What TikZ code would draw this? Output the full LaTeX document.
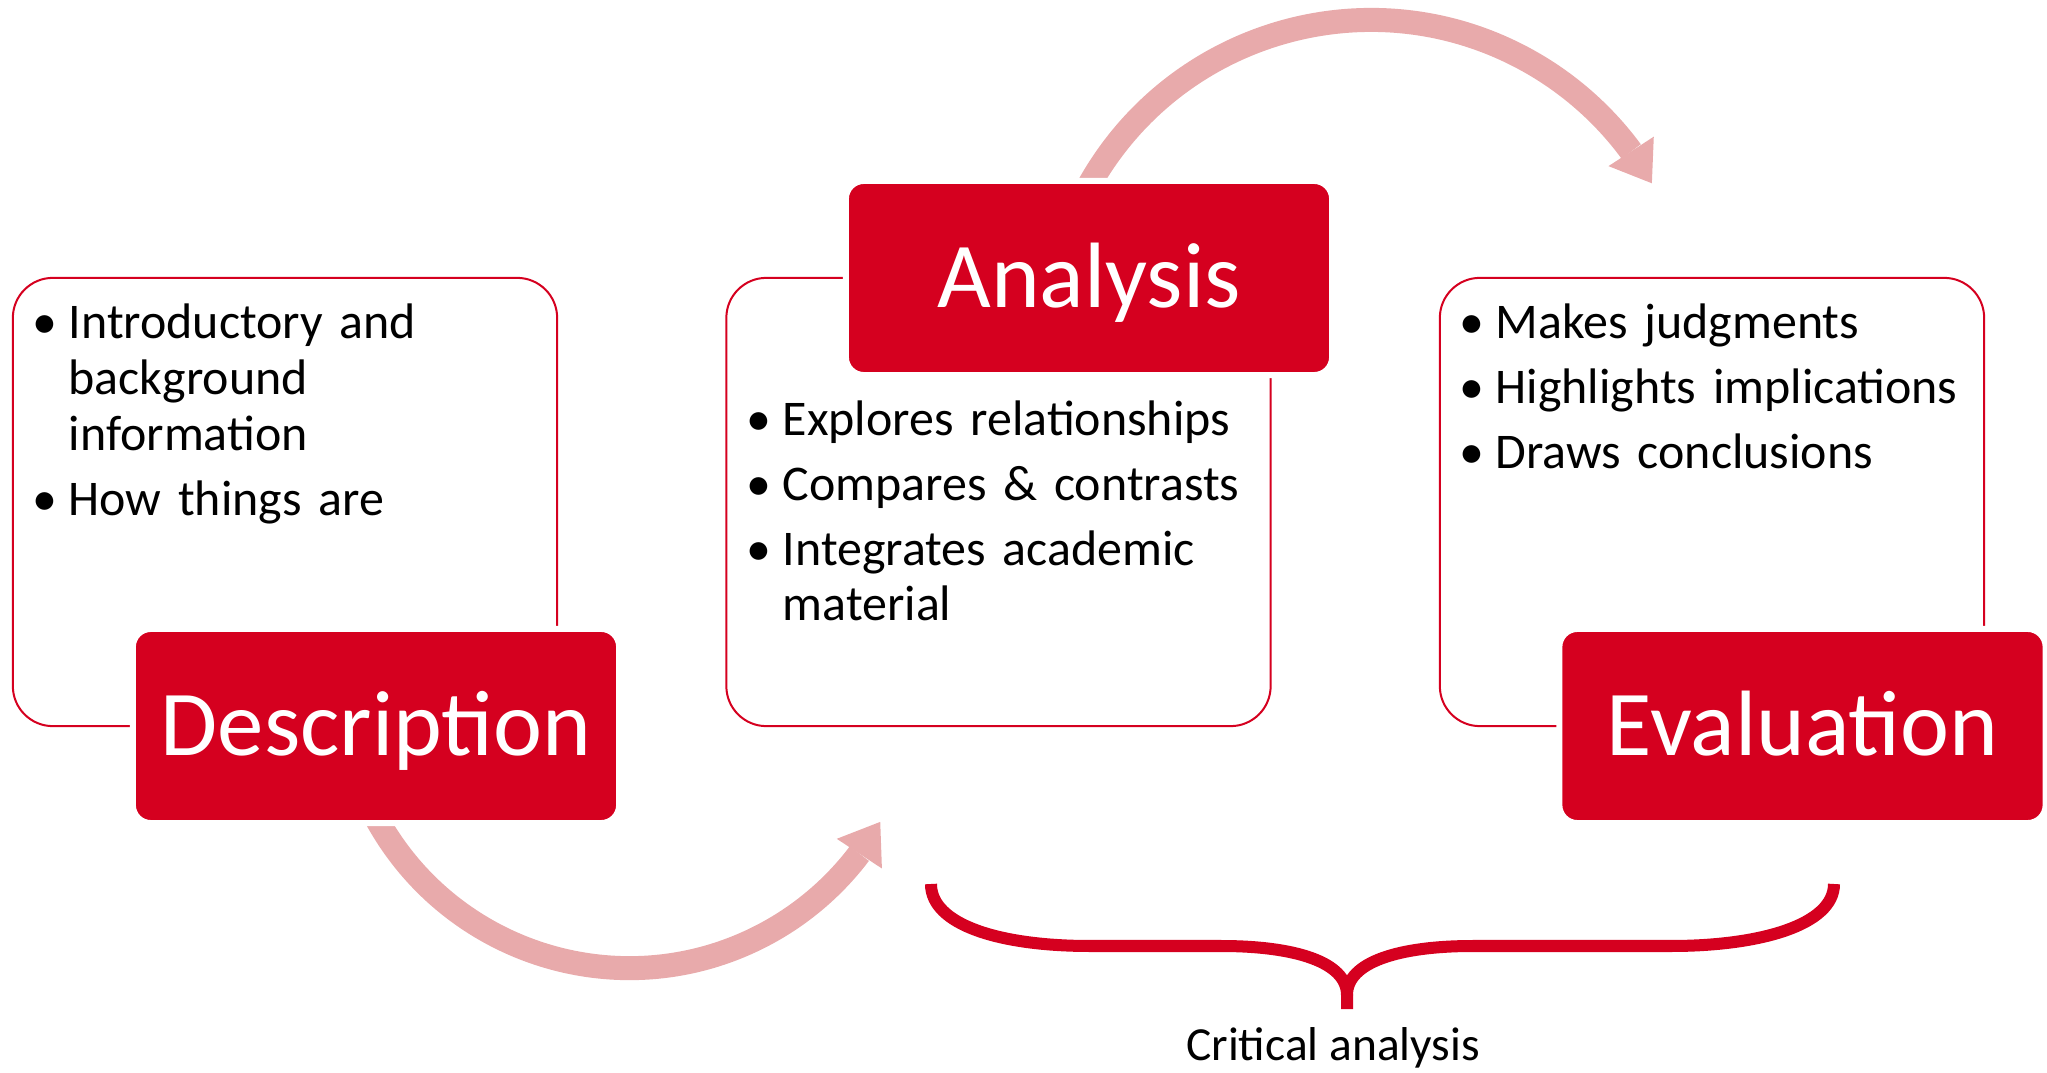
\documentclass[tikz,border=0pt]{standalone}
\usepackage{fontspec}
\setmainfont{Carlito}
\usetikzlibrary{arrows.meta,bending}
\definecolor{boxred}{RGB}{213,0,31}
\definecolor{flowpink}{RGB}{232,170,171}
\pgfdeclarelayer{back}
\pgfsetlayers{back,main}
\newcommand{\bitem}[1]{\setlength{\parskip}{2.65pt}\hyphenpenalty=10000 \exhyphenpenalty=10000 %
  \hangindent=0.36cm \hangafter=1 \noindent\makebox[0.36cm][l]{\textbullet}#1\par}
\tikzset{
  panel/.style={draw=boxred, line width=0.02cm, rounded corners=0.4cm, minimum width=5.44cm, minimum height=4.48cm},
  stage/.style={fill=boxred, draw=white, line width=0.06cm, rounded corners=0.18cm, outer sep=0pt,
    minimum width=4.86cm, minimum height=1.94cm, inner sep=0pt, text=white,
    font=\fontsize{26.4}{30}\selectfont, text height=17pt, text depth=0pt},
  points/.style={anchor=base west, text width=5.2cm, align=left, inner sep=0pt, font=\fontsize{14.2}{15.8}\selectfont},
  flow/.style={draw=flowpink, line width=0.24cm, -{Triangle[length=0.38cm,width=0.54cm,line width=0pt]}},
  critbrace/.style={draw=boxred, line width=0.12cm}
}
\begin{document}
\begin{tikzpicture}[x=0.01cm, y=-0.01cm]
  \useasboundingbox (0,0) rectangle (2047,1073);
  \node[panel] (descbox) at (285,502) {};
  \node[panel] (anabox) at (998.5,502) {};
  \node[panel] (evalbox) at (1712,502) {};
  \node[stage] (desc) at (376,726) {Description};
  \node[stage] (ana) at (1089,278) {Analysis};
  \node[stage] (eval) at (1802.5,726) {Evaluation};
  \begin{pgfonlayer}{back}
    \draw[flow] ([xshift=-0.014cm,yshift=0.08cm]desc.south) arc[start angle=208, end angle=330.45, radius=2.883cm];
    \draw[flow] ([xshift=-0.02cm,yshift=-0.08cm]ana.north) arc[start angle=151.5, end angle=29.65, radius=3.23cm];
  \end{pgfonlayer}
  \node[points] (desclist) at (32,339) {\bitem{Introductory and\newline background\newline information}\bitem{How things are}};
  \node[points] (analist) at (746,435.5) {\bitem{Explores relationships}\bitem{Compares \& contrasts}\bitem{Integrates academic material}};
  \node[points] (evallist) at (1459,338.5) {\bitem{Makes judgments}\bitem{Highlights implications}\bitem{Draws conclusions}};
  \draw[critbrace] (931,884) .. controls (931,925) and (1000,946) .. (1090,946) -- (1221,946)
    .. controls (1295,946) and (1347,962) .. (1347,995) -- (1347,1009);
  \draw[critbrace] (1347,995) .. controls (1347,962) and (1399,946) .. (1473,946) -- (1671,946)
    .. controls (1760,946) and (1834,925) .. (1834,884);
  \node[anchor=base, font=\fontsize{13.5}{16}\selectfont] (crit) at (1333,1060) {Critical analysis};
\end{tikzpicture}
\end{document}
